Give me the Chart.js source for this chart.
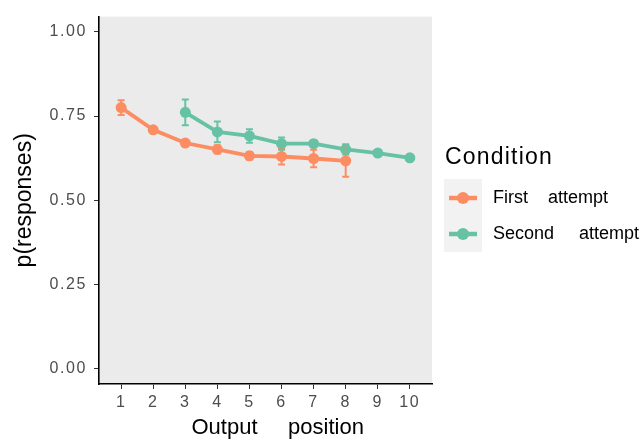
<!DOCTYPE html>
<html>
<head>
<meta charset="utf-8">
<script src="https://cdn.jsdelivr.net/npm/chart.js@4"></script>
<style>
  html, body { margin: 0; padding: 0; background: #fff; }
  #wrap { width: 642px; height: 439px; }
</style>
</head>
<body>
<div id="wrap"><canvas id="recallChart"></canvas></div>
<script>
var positions = [1, 2, 3, 4, 5, 6, 7, 8, 9, 10];
var firstAttempt = [0.775, 0.709, 0.670, 0.651, 0.632, 0.630, 0.624, 0.617, null, null];
var firstErr = [0.022, 0.006, 0.008, 0.012, 0.011, 0.024, 0.026, 0.047, null, null];
var secondAttempt = [null, null, 0.761, 0.703, 0.691, 0.668, 0.668, 0.651, 0.640, 0.626];
var secondErr = [null, null, 0.038, 0.031, 0.020, 0.018, 0.010, 0.015, 0.008, 0.007];
var yTicks = [0, 0.25, 0.5, 0.75, 1];
var seriesNames = ['First    attempt', 'Second     attempt'];
var seriesColors = ['#FC8D62', '#66C2A5'];

var FONT = '"Liberation Sans", Arial, sans-serif';

function toPoints(vals) {
    return positions.map(function (p, i) { return { x: p, y: vals[i] }; })
        .filter(function (d) { return d.y !== null; });
}

var panelBg = {
    id: 'panelBg',
    beforeDraw: function (chart) {
        var a = chart.chartArea, c = chart.ctx;
        c.letterSpacing = '0px';
        c.save();
        c.fillStyle = '#EBEBEB';
        c.fillRect(a.left, a.top, a.right - a.left, a.bottom - a.top);
        c.restore();
    }
};

var errorBars = {
    id: 'errorBars',
    afterDatasetsDraw: function (chart) {
        var c = chart.ctx, xs = chart.scales.x, ys = chart.scales.y;
        var sets = [[firstAttempt, firstErr], [secondAttempt, secondErr]];
        c.save();
        c.lineWidth = 2;
        sets.forEach(function (s, k) {
            c.strokeStyle = seriesColors[k];
            positions.forEach(function (p, i) {
                if (s[0][i] === null) return;
                var px = xs.getPixelForValue(p);
                var y1 = ys.getPixelForValue(s[0][i] + s[1][i]);
                var y2 = ys.getPixelForValue(s[0][i] - s[1][i]);
                c.beginPath();
                c.moveTo(px, y1); c.lineTo(px, y2);
                c.moveTo(px - 3.5, y1); c.lineTo(px + 3.5, y1);
                c.moveTo(px - 3.5, y2); c.lineTo(px + 3.5, y2);
                c.stroke();
            });
        });
        c.restore();
        // tick labels (z: 1) are drawn next, with wider letter spacing
        c.letterSpacing = '1.6px';
    }
};

var sideLegend = {
    id: 'sideLegend',
    afterDraw: function (chart) {
        var c = chart.ctx;
        c.save();
        c.fillStyle = '#000';
        c.textBaseline = 'middle';
        c.letterSpacing = '1.2px';
        c.font = '23px ' + FONT;
        c.fillText('Condition', 445, 158);
        c.letterSpacing = '0px';
        c.fillStyle = '#F2F2F2';
        c.fillRect(444, 179, 38, 73);
        var rows = [198, 234];
        rows.forEach(function (ry, k) {
            c.strokeStyle = seriesColors[k];
            c.lineWidth = 4.5;
            c.beginPath();
            c.moveTo(449, ry); c.lineTo(477, ry);
            c.stroke();
            c.fillStyle = seriesColors[k];
            c.beginPath();
            c.arc(463, ry, 6, 0, Math.PI * 2);
            c.fill();
            c.fillStyle = '#000';
            c.font = '18px ' + FONT;
            c.fillText(seriesNames[k], 493, ry);
        });
        c.restore();
        c.letterSpacing = '0px';
    }
};

var ctx = document.getElementById('recallChart').getContext('2d');
var recallChart = new Chart(ctx, {
    type: 'line',
    data: {
        datasets: [{
            label: seriesNames[0],
            data: toPoints(firstAttempt),
            borderColor: seriesColors[0],
            backgroundColor: seriesColors[0],
            borderWidth: 3.8,
            pointRadius: 5.5,
            pointBorderWidth: 0,
            pointHoverRadius: 5.5
        }, {
            label: seriesNames[1],
            data: toPoints(secondAttempt),
            borderColor: seriesColors[1],
            backgroundColor: seriesColors[1],
            borderWidth: 3.8,
            pointRadius: 5.5,
            pointBorderWidth: 0,
            pointHoverRadius: 5.5
        }]
    },
    options: {
        responsive: true,
        maintainAspectRatio: false,
        animation: false,
        layout: { padding: { left: 0, top: 12, right: 210, bottom: 0 } },
        plugins: {
            legend: { display: false },
            tooltip: { enabled: false }
        },
        scales: {
            x: {
                type: 'linear',
                min: 0.31,
                max: 10.69,
                afterBuildTicks: function (scale) {
                    scale.ticks = positions.map(function (v) { return { value: v }; });
                },
                afterFit: function (scale) { scale.height = 55; },
                border: { display: true, color: '#000', width: 1.6 },
                grid: { drawOnChartArea: false, drawTicks: true, tickLength: 5, color: '#333' },
                ticks: {
                    z: 1,
                    color: '#4D4D4D',
                    padding: 4,
                    maxRotation: 0,
                    font: { family: FONT, size: 16 }
                },
                title: {
                    display: true,
                    // leading spaces nudge the centred title right, as in the original
                    text: '    Output     position',
                    color: '#000',
                    padding: { top: 0, bottom: 0 },
                    font: { family: FONT, size: 22, lineHeight: 1 }
                }
            },
            y: {
                min: -0.045,
                max: 1.045,
                afterBuildTicks: function (scale) {
                    scale.ticks = yTicks.map(function (v) { return { value: v }; });
                },
                afterFit: function (scale) { scale.width = 99; },
                border: { display: true, color: '#000', width: 1.6 },
                grid: { drawOnChartArea: false, drawTicks: true, tickLength: 5, color: '#333' },
                ticks: {
                    z: 1,
                    color: '#4D4D4D',
                    padding: 7,
                    callback: function (v) { return v.toFixed(2); },
                    font: { family: FONT, size: 16 }
                },
                title: {
                    display: true,
                    text: 'p(responses)',
                    color: '#000',
                    padding: { top: 11, bottom: 0 },
                    font: { family: FONT, size: 23 }
                }
            }
        }
    },
    plugins: [panelBg, errorBars, sideLegend]
});
</script>
</body>
</html>
